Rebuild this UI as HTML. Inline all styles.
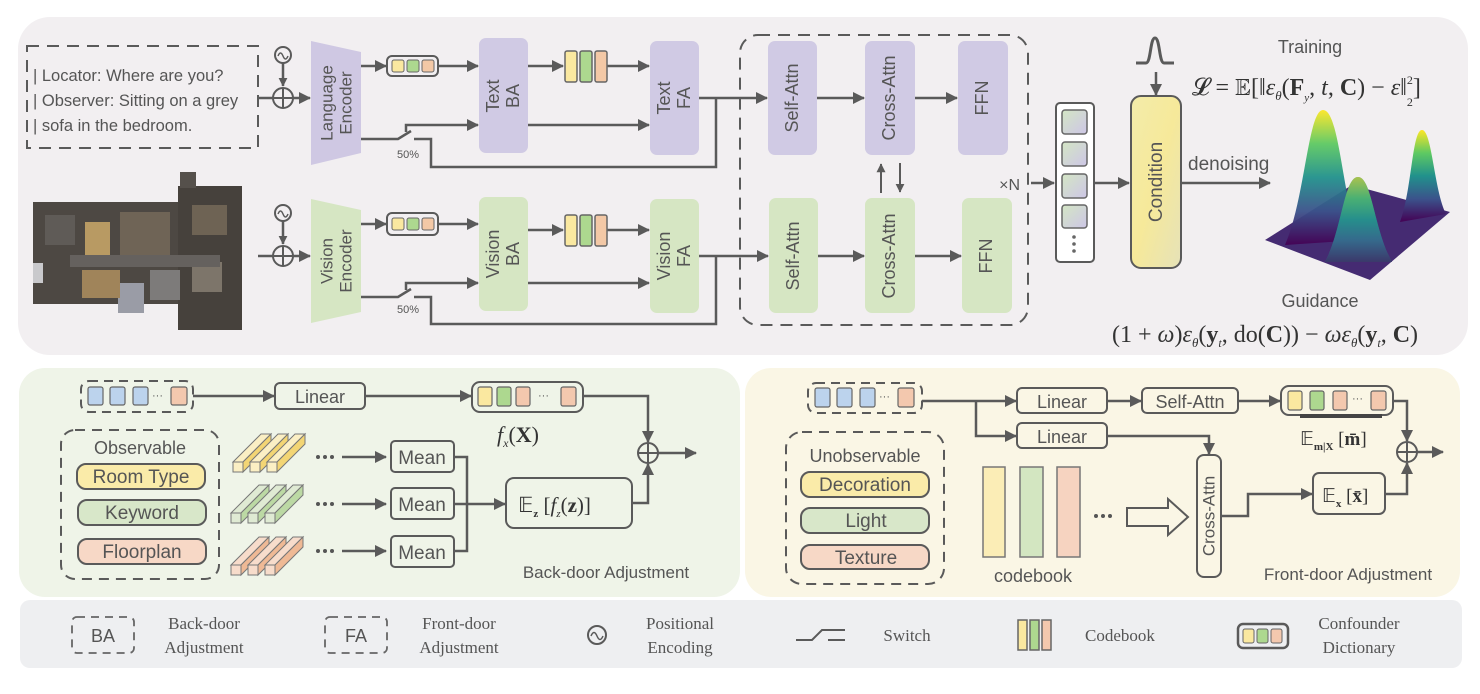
<!DOCTYPE html>
<html><head><meta charset="utf-8"><style>
html,body{margin:0;padding:0;background:#fff;}
svg{display:block;}
text{font-family:"Liberation Sans",sans-serif;fill:#555;}
.s{font-family:"Liberation Serif",serif;}
</style></head><body>
<svg width="1480" height="694" viewBox="0 0 1480 694" xmlns="http://www.w3.org/2000/svg">
<defs>
<marker id="a" viewBox="0 0 12 12" refX="11" refY="6" markerWidth="12" markerHeight="12" markerUnits="userSpaceOnUse" orient="auto"><path d="M0,0 L12,6 L0,12 z" fill="#5a5a5a"/></marker>
<marker id="b" viewBox="0 0 12 12" refX="11" refY="6" markerWidth="9" markerHeight="9" markerUnits="userSpaceOnUse" orient="auto"><path d="M0,0 L12,6 L0,12 z" fill="#5a5a5a"/></marker>
<linearGradient id="cond" x1="0" y1="0" x2="1" y2="1"><stop offset="0" stop-color="#f3ecaa"/><stop offset="0.5" stop-color="#f6e99a"/><stop offset="1" stop-color="#e6e2b8"/></linearGradient>
<linearGradient id="sq" x1="0" y1="0" x2="1" y2="1"><stop offset="0" stop-color="#d4e6c4"/><stop offset="1" stop-color="#cdc6e6"/></linearGradient>
<linearGradient id="vir" x1="0" y1="0" x2="0" y2="1"><stop offset="0" stop-color="#fde725"/><stop offset="0.25" stop-color="#5ec962"/><stop offset="0.5" stop-color="#21918c"/><stop offset="0.75" stop-color="#3b528b"/><stop offset="1" stop-color="#440154"/></linearGradient>
<g id="py"><rect x="0" y="0" width="10" height="10" fill="#fbefc4" stroke="#777" stroke-width="1"/><polygon points="0,0 28,-28 38,-28 10,0" fill="#fbefc4" stroke="#777" stroke-width="1"/><polygon points="10,0 38,-28 38,-18 10,10" fill="#f3d574" stroke="#777" stroke-width="1"/></g>
<g id="pg"><rect x="0" y="0" width="10" height="10" fill="#dfead3" stroke="#777" stroke-width="1"/><polygon points="0,0 28,-28 38,-28 10,0" fill="#dfead3" stroke="#777" stroke-width="1"/><polygon points="10,0 38,-28 38,-18 10,10" fill="#bcd9a4" stroke="#777" stroke-width="1"/></g>
<g id="po"><rect x="0" y="0" width="10" height="10" fill="#f7dccb" stroke="#777" stroke-width="1"/><polygon points="0,0 28,-28 38,-28 10,0" fill="#f7dccb" stroke="#777" stroke-width="1"/><polygon points="10,0 38,-28 38,-18 10,10" fill="#efb995" stroke="#777" stroke-width="1"/></g>
</defs>

<rect x="18" y="17" width="1450" height="338" rx="32" fill="#f2eff1"/>
<rect x="19" y="368" width="721" height="229" rx="26" fill="#eff4e8"/>
<rect x="745" y="368" width="715" height="229" rx="26" fill="#faf6e5"/>
<rect x="20" y="600" width="1442" height="68" rx="10" fill="#eeeff1"/>

<rect x="27" y="46" width="231" height="102" fill="none" stroke="#5a5a5a" stroke-dasharray="12,8" stroke-width="2"/>
<text x="33" y="81" font-size="16.5">| Locator: Where are you?</text>
<text x="33" y="106" font-size="16.5">| Observer: Sitting on a grey</text>
<text x="33" y="131" font-size="16.5">| sofa in the bedroom.</text>

<!-- floorplan image -->
<g>
<rect x="33" y="202" width="150" height="102" fill="#4d4843"/>
<rect x="178" y="186" width="64" height="144" fill="#46413c"/>
<rect x="118" y="283" width="26" height="30" fill="#9a9ca6"/>
<rect x="85" y="222" width="25" height="35" fill="#b89a63"/>
<rect x="120" y="212" width="50" height="45" fill="#6f6456"/>
<rect x="82" y="270" width="38" height="28" fill="#a0845a"/>
<rect x="45" y="215" width="30" height="30" fill="#5f5b57"/>
<rect x="150" y="270" width="30" height="30" fill="#7d7b7a"/>
<rect x="192" y="205" width="35" height="30" fill="#6e6354"/>
<rect x="192" y="262" width="30" height="30" fill="#7d756a"/>
<rect x="70" y="255" width="150" height="12" fill="#65615e"/>
<rect x="180" y="172" width="16" height="16" fill="#55504b"/>
<rect x="33" y="263" width="10" height="20" fill="#c9c9cc"/>
</g>

<g stroke="#5a5a5a" stroke-width="2.5" fill="none">
<circle cx="283" cy="55" r="8" stroke-width="2"/>
<path d="M278,56 q2.5,-6 5,0 q2.5,6 5,0" stroke-width="1.5"/>
<line x1="283" y1="63" x2="283" y2="86" marker-end="url(#b)"/>
<circle cx="283" cy="98" r="10" stroke-width="2"/>
<line x1="273" y1="98" x2="293" y2="98" stroke-width="2"/><line x1="283" y1="88" x2="283" y2="108" stroke-width="2"/>
<line x1="258" y1="98" x2="273" y2="98"/>
<line x1="293" y1="98" x2="310" y2="98" marker-end="url(#a)"/>
<line x1="361" y1="66" x2="386" y2="66" marker-end="url(#a)"/>
<line x1="438" y1="66" x2="478" y2="66" marker-end="url(#a)"/>
<line x1="528" y1="66" x2="563" y2="66" marker-end="url(#a)"/>
<line x1="607" y1="66" x2="649" y2="66" marker-end="url(#a)"/>
<polyline points="361,139 398,139 411,131"/>
<polyline points="406,132 406,125 478,125" marker-end="url(#a)"/>
<polyline points="414,139 431,139 431,167 716,167 716,98"/>
<line x1="528" y1="125" x2="649" y2="125" marker-end="url(#a)"/>
<line x1="699" y1="98" x2="767" y2="98" marker-end="url(#a)"/>
</g>
<polygon points="311,41 361,52 361,153 311,165" fill="#cfc8e3"/>
<text transform="translate(328,103) rotate(-90)" font-size="17" text-anchor="middle" dominant-baseline="middle">Language</text>
<text transform="translate(347,103) rotate(-90)" font-size="17" text-anchor="middle" dominant-baseline="middle">Encoder</text>
<rect x="387" y="56" width="51" height="20" rx="5" fill="none" stroke="#5a5a5a" stroke-width="2"/>
<rect x="392" y="60" width="12" height="12" rx="2" fill="#fae8a0" stroke="#666" stroke-width="1"/>
<rect x="407" y="60" width="12" height="12" rx="2" fill="#add88f" stroke="#666" stroke-width="1"/>
<rect x="422" y="60" width="12" height="12" rx="2" fill="#f3c8a6" stroke="#666" stroke-width="1"/>
<rect x="479" y="38" width="49" height="115" rx="7" fill="#d0cae4"/>
<text transform="translate(494,96) rotate(-90)" font-size="18" text-anchor="middle" dominant-baseline="middle">Text</text>
<text transform="translate(514,96) rotate(-90)" font-size="18" text-anchor="middle" dominant-baseline="middle">BA</text>
<rect x="565" y="51" width="12" height="31" rx="2" fill="#fae8a0" stroke="#666" stroke-width="1.5"/>
<rect x="580" y="51" width="12" height="31" rx="2" fill="#add88f" stroke="#666" stroke-width="1.5"/>
<rect x="595" y="51" width="12" height="31" rx="2" fill="#f3c8a6" stroke="#666" stroke-width="1.5"/>
<rect x="650" y="41" width="49" height="114" rx="7" fill="#d0cae4"/>
<text transform="translate(665,98) rotate(-90)" font-size="18" text-anchor="middle" dominant-baseline="middle">Text</text>
<text transform="translate(685,98) rotate(-90)" font-size="18" text-anchor="middle" dominant-baseline="middle">FA</text>
<text x="397" y="158" font-size="11">50%</text>

<g stroke="#5a5a5a" stroke-width="2.5" fill="none">
<circle cx="283" cy="213" r="8" stroke-width="2"/>
<path d="M278,214 q2.5,-6 5,0 q2.5,6 5,0" stroke-width="1.5"/>
<line x1="283" y1="221" x2="283" y2="244" marker-end="url(#b)"/>
<circle cx="283" cy="256" r="10" stroke-width="2"/>
<line x1="273" y1="256" x2="293" y2="256" stroke-width="2"/><line x1="283" y1="246" x2="283" y2="266" stroke-width="2"/>
<line x1="258" y1="256" x2="273" y2="256"/>
<line x1="293" y1="256" x2="310" y2="256" marker-end="url(#a)"/>
<line x1="361" y1="224" x2="386" y2="224" marker-end="url(#a)"/>
<line x1="438" y1="224" x2="478" y2="224" marker-end="url(#a)"/>
<line x1="528" y1="230" x2="563" y2="230" marker-end="url(#a)"/>
<line x1="607" y1="230" x2="649" y2="230" marker-end="url(#a)"/>
<polyline points="361,297 398,297 411,289"/>
<polyline points="406,290 406,283 478,283" marker-end="url(#a)"/>
<polyline points="414,297 431,297 431,324 716,324 716,256"/>
<line x1="528" y1="283" x2="649" y2="283" marker-end="url(#a)"/>
<line x1="699" y1="256" x2="768" y2="256" marker-end="url(#a)"/>
</g>
<polygon points="311,199 361,210 361,312 311,323" fill="#d6e6c3"/>
<text transform="translate(328,261) rotate(-90)" font-size="17" text-anchor="middle" dominant-baseline="middle">Vision</text>
<text transform="translate(347,261) rotate(-90)" font-size="17" text-anchor="middle" dominant-baseline="middle">Encoder</text>
<rect x="387" y="213" width="51" height="22" rx="5" fill="none" stroke="#5a5a5a" stroke-width="2"/>
<rect x="392" y="218" width="12" height="12" rx="2" fill="#fae8a0" stroke="#666" stroke-width="1"/>
<rect x="407" y="218" width="12" height="12" rx="2" fill="#add88f" stroke="#666" stroke-width="1"/>
<rect x="422" y="218" width="12" height="12" rx="2" fill="#f3c8a6" stroke="#666" stroke-width="1"/>
<rect x="479" y="197" width="49" height="114" rx="7" fill="#d6e6c3"/>
<text transform="translate(494,254) rotate(-90)" font-size="18" text-anchor="middle" dominant-baseline="middle">Vision</text>
<text transform="translate(514,254) rotate(-90)" font-size="18" text-anchor="middle" dominant-baseline="middle">BA</text>
<rect x="565" y="215" width="12" height="31" rx="2" fill="#fae8a0" stroke="#666" stroke-width="1.5"/>
<rect x="580" y="215" width="12" height="31" rx="2" fill="#add88f" stroke="#666" stroke-width="1.5"/>
<rect x="595" y="215" width="12" height="31" rx="2" fill="#f3c8a6" stroke="#666" stroke-width="1.5"/>
<rect x="650" y="199" width="49" height="114" rx="7" fill="#d6e6c3"/>
<text transform="translate(665,256) rotate(-90)" font-size="18" text-anchor="middle" dominant-baseline="middle">Vision</text>
<text transform="translate(685,256) rotate(-90)" font-size="18" text-anchor="middle" dominant-baseline="middle">FA</text>
<text x="397" y="313" font-size="11">50%</text>

<rect x="740" y="35" width="288" height="290" rx="18" fill="none" stroke="#5a5a5a" stroke-width="2" stroke-dasharray="12,8"/>
<g fill="#d0cae4">
<rect x="768" y="41" width="49" height="114" rx="7"/><rect x="865" y="41" width="50" height="114" rx="7"/><rect x="958" y="41" width="50" height="114" rx="7"/>
</g>
<g fill="#d6e6c3">
<rect x="769" y="198" width="49" height="115" rx="7"/><rect x="865" y="198" width="50" height="115" rx="7"/><rect x="962" y="198" width="50" height="115" rx="7"/>
</g>
<g font-size="18" text-anchor="middle" dominant-baseline="middle">
<text transform="translate(793,98) rotate(-90)">Self-Attn</text>
<text transform="translate(890,98) rotate(-90)">Cross-Attn</text>
<text transform="translate(983,98) rotate(-90)">FFN</text>
<text transform="translate(794,256) rotate(-90)">Self-Attn</text>
<text transform="translate(890,256) rotate(-90)">Cross-Attn</text>
<text transform="translate(987,256) rotate(-90)">FFN</text>
</g>
<g stroke="#5a5a5a" stroke-width="2.5" fill="none">
<line x1="817" y1="98" x2="864" y2="98" marker-end="url(#a)"/>
<line x1="915" y1="98" x2="957" y2="98" marker-end="url(#a)"/>
<line x1="818" y1="256" x2="864" y2="256" marker-end="url(#a)"/>
<line x1="915" y1="256" x2="961" y2="256" marker-end="url(#a)"/>
<line x1="881" y1="193" x2="881" y2="164" marker-end="url(#b)" stroke-width="2"/>
<line x1="900" y1="163" x2="900" y2="192" marker-end="url(#b)" stroke-width="2"/>
<line x1="1031" y1="183" x2="1054" y2="183" marker-end="url(#a)"/>
<line x1="1094" y1="183" x2="1129" y2="183" marker-end="url(#a)"/>
<line x1="1181" y1="183" x2="1270" y2="183" marker-end="url(#a)"/>
<line x1="1156" y1="72" x2="1156" y2="95" marker-end="url(#a)"/>
<path d="M1136,63 L1146,63 C1151,63 1150,38 1155,38 C1160,38 1159,63 1164,63 L1174,63" stroke-width="3"/>
</g>
<text x="1020" y="190" font-size="16" text-anchor="end">×N</text>
<rect x="1056" y="103" width="38" height="159" rx="4" fill="#fff" stroke="#5a5a5a" stroke-width="2"/>
<g fill="url(#sq)" stroke="#666" stroke-width="1.5">
<rect x="1062" y="110" width="25" height="24" rx="3"/><rect x="1062" y="142" width="25" height="24" rx="3"/><rect x="1062" y="174" width="25" height="24" rx="3"/><rect x="1062" y="205" width="25" height="23" rx="3"/>
</g>
<g fill="#666"><circle cx="1074" cy="237" r="1.8"/><circle cx="1074" cy="244" r="1.8"/><circle cx="1074" cy="251" r="1.8"/></g>
<rect x="1131" y="96" width="50" height="172" rx="10" fill="url(#cond)" stroke="#5a5a5a" stroke-width="2"/>
<text transform="translate(1157,182) rotate(-90)" font-size="19" text-anchor="middle" dominant-baseline="middle">Condition</text>
<text x="1188" y="170" font-size="19">denoising</text>
<text x="1310" y="53" font-size="18" text-anchor="middle">Training</text>
<text x="1192" y="95" font-size="24" class="s" style="fill:#333">𝓛 = 𝔼[‖<tspan font-style="italic">ε</tspan><tspan font-size="13" dy="5" font-style="italic">θ</tspan><tspan dy="-5">(</tspan><tspan font-weight="bold">F</tspan><tspan font-size="11" dy="6" font-style="italic">y</tspan><tspan dy="-6">, </tspan><tspan font-style="italic">t</tspan>, <tspan font-weight="bold">C</tspan>) − <tspan font-style="italic">ε</tspan>‖<tspan font-size="12" dy="-11">2</tspan><tspan font-size="12" dx="-6" dy="22">2</tspan><tspan dy="-11">]</tspan></text>

<polygon points="1265,240 1352,185 1450,212 1370,280" fill="#452b72"/>
<path d="M1285,245 C1305,200 1308,110 1323,110 C1340,110 1342,200 1360,240 Z" fill="url(#vir)" opacity="0.95"/>
<path d="M1400,222 C1412,190 1412,130 1422,130 C1432,130 1434,190 1446,214 Z" fill="url(#vir)"/>
<path d="M1325,262 C1342,230 1344,177 1358,177 C1372,177 1374,230 1392,262 Z" fill="#2d8b8c"/>
<path d="M1325,262 C1342,230 1344,177 1358,177 C1372,177 1374,230 1392,262 Z" fill="url(#vir)" opacity="0.6"/>
<text x="1320" y="307" font-size="18" text-anchor="middle">Guidance</text>
<text x="1112" y="342" font-size="24" class="s" style="fill:#333">(1 + <tspan font-style="italic">ω</tspan>)<tspan font-style="italic">ε</tspan><tspan font-size="13" dy="5" font-style="italic">θ</tspan><tspan dy="-5">(</tspan><tspan font-weight="bold">y</tspan><tspan font-size="12" dy="5" font-style="italic">t</tspan><tspan dy="-5">, do(</tspan><tspan font-weight="bold">C</tspan>)) − <tspan font-style="italic">ωε</tspan><tspan font-size="13" dy="5" font-style="italic">θ</tspan><tspan dy="-5">(</tspan><tspan font-weight="bold">y</tspan><tspan font-size="12" dy="5" font-style="italic">t</tspan><tspan dy="-5">, </tspan><tspan font-weight="bold">C</tspan>)</text>

<g stroke="#5a5a5a" stroke-width="2.5" fill="none">
<rect x="81" y="381" width="112" height="31" rx="8" stroke-dasharray="9,6" stroke-width="2"/>
<line x1="193" y1="396" x2="274" y2="396" marker-end="url(#a)"/>
<line x1="365" y1="396" x2="471" y2="396" marker-end="url(#a)"/>
<polyline points="583,396 648,396 648,442" marker-end="url(#a)"/>
<circle cx="648" cy="453" r="10" stroke-width="2"/>
<line x1="638" y1="453" x2="658" y2="453" stroke-width="2"/><line x1="648" y1="443" x2="648" y2="463" stroke-width="2"/>
<line x1="658" y1="453" x2="696" y2="453" marker-end="url(#a)"/>
<polyline points="632,503 648,503 648,464" marker-end="url(#a)"/>
<rect x="61" y="430" width="158" height="149" rx="14" stroke-dasharray="10,7" stroke-width="2"/>
<line x1="342" y1="457" x2="386" y2="457" marker-end="url(#a)"/>
<line x1="342" y1="504" x2="386" y2="504" marker-end="url(#a)"/>
<line x1="342" y1="551" x2="386" y2="551" marker-end="url(#a)"/>
<polyline points="454,457 467,457 467,551 454,551"/>
<line x1="454" y1="504" x2="505" y2="504" marker-end="url(#a)"/>
</g>
<g stroke="#666" stroke-width="1.2">
<rect x="88" y="387" width="15" height="18" rx="2" fill="#bcd3ed"/><rect x="110" y="387" width="15" height="18" rx="2" fill="#bcd3ed"/><rect x="133" y="387" width="15" height="18" rx="2" fill="#bcd3ed"/><rect x="171" y="387" width="16" height="18" rx="2" fill="#f3c8ae"/>
</g>
<text x="152" y="399" font-size="11">···</text>
<rect x="275" y="383" width="90" height="26" rx="5" fill="none" stroke="#5a5a5a" stroke-width="2"/>
<text x="320" y="403" font-size="18" text-anchor="middle">Linear</text>
<rect x="472" y="382" width="111" height="30" rx="8" fill="none" stroke="#5a5a5a" stroke-width="2"/>
<g stroke="#666" stroke-width="1.2">
<rect x="478" y="387" width="14" height="19" rx="2" fill="#fae8a0"/><rect x="497" y="387" width="14" height="19" rx="2" fill="#add88f"/><rect x="516" y="387" width="14" height="19" rx="2" fill="#f3c8ae"/><rect x="561" y="387" width="15" height="19" rx="2" fill="#f3c8ae"/>
</g>
<text x="538" y="399" font-size="11">···</text>
<text x="497" y="442" font-size="22" class="s" style="fill:#333"><tspan font-style="italic">f</tspan><tspan font-size="12" dy="5" font-style="italic">x</tspan><tspan dy="-5">(</tspan><tspan font-weight="bold">X</tspan>)</text>
<text x="140" y="454" font-size="18" text-anchor="middle">Observable</text>
<rect x="77" y="464" width="128" height="25" rx="9" fill="#faeba9" stroke="#5a5a5a" stroke-width="2"/>
<text x="141" y="483" font-size="19" text-anchor="middle">Room Type</text>
<rect x="78" y="500" width="128" height="25" rx="9" fill="#d8e7c9" stroke="#5a5a5a" stroke-width="2"/>
<text x="142" y="519" font-size="19" text-anchor="middle">Keyword</text>
<rect x="78" y="539" width="128" height="25" rx="9" fill="#f7d8c6" stroke="#5a5a5a" stroke-width="2"/>
<text x="142" y="558" font-size="19" text-anchor="middle">Floorplan</text>
<use href="#py" x="233" y="462"/><use href="#py" x="250" y="462"/><use href="#py" x="267" y="462"/>
<use href="#pg" x="231" y="513"/><use href="#pg" x="248" y="513"/><use href="#pg" x="265" y="513"/>
<use href="#po" x="231" y="565"/><use href="#po" x="248" y="565"/><use href="#po" x="265" y="565"/>
<g fill="#555"><circle cx="318" cy="457" r="2"/><circle cx="325" cy="457" r="2"/><circle cx="332" cy="457" r="2"/><circle cx="318" cy="504" r="2"/><circle cx="325" cy="504" r="2"/><circle cx="332" cy="504" r="2"/><circle cx="318" cy="551" r="2"/><circle cx="325" cy="551" r="2"/><circle cx="332" cy="551" r="2"/></g>
<g fill="none" stroke="#5a5a5a" stroke-width="2">
<rect x="391" y="441" width="63" height="31" rx="4"/><rect x="391" y="488" width="63" height="31" rx="4"/><rect x="391" y="536" width="63" height="31" rx="4"/>
<rect x="506" y="478" width="126" height="50" rx="8"/>
</g>
<text x="422" y="464" font-size="19" text-anchor="middle">Mean</text>
<text x="422" y="511" font-size="19" text-anchor="middle">Mean</text>
<text x="422" y="559" font-size="19" text-anchor="middle">Mean</text>
<text x="518" y="512" font-size="21" class="s" style="fill:#333">𝔼<tspan font-size="11" dy="5" font-weight="bold">z</tspan><tspan dy="-5"> [</tspan><tspan font-style="italic">f</tspan><tspan font-size="11" dy="5" font-style="italic">z</tspan><tspan dy="-5">(</tspan><tspan font-weight="bold">z</tspan>)]</text>
<text x="606" y="578" font-size="17" text-anchor="middle">Back-door Adjustment</text>

<g stroke="#5a5a5a" stroke-width="2.5" fill="none">
<rect x="808" y="383" width="114" height="30" rx="8" stroke-dasharray="9,6" stroke-width="2"/>
<line x1="922" y1="401" x2="1016" y2="401" marker-end="url(#a)"/>
<polyline points="976,401 976,436 1016,436" marker-end="url(#a)"/>
<line x1="1107" y1="401" x2="1141" y2="401" marker-end="url(#a)"/>
<line x1="1238" y1="401" x2="1280" y2="401" marker-end="url(#a)"/>
<polyline points="1107,436 1209,436 1209,454" marker-end="url(#a)"/>
<polyline points="1393,401 1407,401 1407,441" marker-end="url(#a)"/>
<circle cx="1407" cy="452" r="10" stroke-width="2"/>
<line x1="1397" y1="452" x2="1417" y2="452" stroke-width="2"/><line x1="1407" y1="442" x2="1407" y2="462" stroke-width="2"/>
<line x1="1417" y1="452" x2="1443" y2="452" marker-end="url(#a)"/>
<polyline points="1385,494 1407,494 1407,463" marker-end="url(#a)"/>
<polyline points="1221,516 1248,516 1248,494 1312,494" marker-end="url(#a)"/>
<rect x="786" y="432" width="158" height="152" rx="16" stroke-dasharray="10,7" stroke-width="2"/>
<polygon points="1127,508 1168,508 1168,499 1188,517 1168,535 1168,526 1127,526" stroke-width="2"/>
</g>
<g stroke="#666" stroke-width="1.2">
<rect x="815" y="388" width="15" height="19" rx="2" fill="#bcd3ed"/><rect x="837" y="388" width="15" height="19" rx="2" fill="#bcd3ed"/><rect x="860" y="388" width="15" height="19" rx="2" fill="#bcd3ed"/><rect x="898" y="388" width="16" height="19" rx="2" fill="#f3c8ae"/>
</g>
<text x="879" y="400" font-size="11">···</text>
<g fill="none" stroke="#5a5a5a" stroke-width="2">
<rect x="1017" y="388" width="90" height="25" rx="5"/><rect x="1017" y="423" width="90" height="25" rx="5"/>
<rect x="1142" y="388" width="96" height="25" rx="5"/>
<rect x="1281" y="386" width="112" height="29" rx="8"/>
<rect x="1197" y="455" width="24" height="122" rx="7"/>
<rect x="1313" y="473" width="72" height="41" rx="6"/>
</g>
<text x="1062" y="408" font-size="18" text-anchor="middle">Linear</text>
<text x="1062" y="443" font-size="18" text-anchor="middle">Linear</text>
<text x="1190" y="408" font-size="18" text-anchor="middle">Self-Attn</text>
<g stroke="#666" stroke-width="1.2">
<rect x="1288" y="391" width="14" height="19" rx="2" fill="#fae8a0"/><rect x="1310" y="391" width="14" height="19" rx="2" fill="#add88f"/><rect x="1333" y="391" width="14" height="19" rx="2" fill="#f3c8ae"/><rect x="1371" y="391" width="15" height="19" rx="2" fill="#f3c8ae"/>
</g>
<text x="1352" y="402" font-size="11">···</text>
<rect x="1300" y="414" width="82" height="4" fill="#444"/>
<text x="1300" y="445" font-size="19" class="s" style="fill:#333">𝔼<tspan font-size="11" dy="5" font-weight="bold">m|X</tspan><tspan dy="-5"> [</tspan><tspan font-weight="bold">m̄</tspan>]</text>
<text x="1322" y="502" font-size="19" class="s" style="fill:#333">𝔼<tspan font-size="11" dy="5" font-weight="bold">x</tspan><tspan dy="-5"> [</tspan><tspan font-weight="bold">x̄</tspan>]</text>
<text transform="translate(1210,516) rotate(-90)" font-size="17" text-anchor="middle" dominant-baseline="middle">Cross-Attn</text>
<text x="865" y="462" font-size="18" text-anchor="middle">Unobservable</text>
<rect x="801" y="472" width="128" height="25" rx="9" fill="#faeba9" stroke="#5a5a5a" stroke-width="2"/>
<text x="865" y="491" font-size="19" text-anchor="middle">Decoration</text>
<rect x="801" y="508" width="128" height="25" rx="9" fill="#d8e7c9" stroke="#5a5a5a" stroke-width="2"/>
<text x="866" y="527" font-size="19" text-anchor="middle">Light</text>
<rect x="801" y="545" width="128" height="24" rx="9" fill="#f7d8c6" stroke="#5a5a5a" stroke-width="2"/>
<text x="866" y="564" font-size="19" text-anchor="middle">Texture</text>
<g stroke="#777" stroke-width="1.5">
<rect x="983" y="467" width="22" height="90" fill="#fbedb6"/><rect x="1020" y="467" width="23" height="90" fill="#d3e6c1"/><rect x="1057" y="467" width="23" height="90" fill="#f6d3c0"/>
</g>
<text x="1033" y="582" font-size="18" text-anchor="middle">codebook</text>
<g fill="#555"><circle cx="1096" cy="516" r="2"/><circle cx="1103" cy="516" r="2"/><circle cx="1110" cy="516" r="2"/></g>
<text x="1348" y="580" font-size="17" text-anchor="middle">Front-door Adjustment</text>

<g fill="none" stroke="#666" stroke-width="1.8" stroke-dasharray="8,6">
<rect x="72" y="617" width="62" height="36" rx="5"/><rect x="325" y="617" width="62" height="36" rx="5"/>
</g>
<text x="103" y="642" font-size="18" text-anchor="middle">BA</text>
<text x="356" y="642" font-size="18" text-anchor="middle">FA</text>
<g font-size="17" text-anchor="middle">
<text x="204" y="629" class="s">Back-door</text><text x="204" y="653" class="s">Adjustment</text>
<text x="459" y="629" class="s">Front-door</text><text x="459" y="653" class="s">Adjustment</text>
<text x="680" y="629" class="s">Positional</text><text x="680" y="653" class="s">Encoding</text>
<text x="907" y="641" class="s">Switch</text>
<text x="1120" y="641" class="s">Codebook</text>
<text x="1359" y="629" class="s">Confounder</text><text x="1359" y="653" class="s">Dictionary</text>
</g>
<g stroke="#5a5a5a" stroke-width="2" fill="none">
<circle cx="597" cy="635" r="9"/>
<path d="M591,636 q3,-7 6,0 q3,7 6,0" stroke-width="1.5"/>
<polyline points="796,640 812,640 822,630 845,630"/>
<line x1="828" y1="640" x2="845" y2="640"/>
</g>
<g stroke="#666" stroke-width="1.5">
<rect x="1018" y="620" width="9" height="30" fill="#fae8a0"/><rect x="1030" y="620" width="9" height="30" fill="#add88f"/><rect x="1042" y="620" width="9" height="30" fill="#f3c8ae"/>
</g>
<rect x="1238" y="624" width="50" height="24" rx="5" fill="none" stroke="#5a5a5a" stroke-width="2.5"/>
<g stroke="#666" stroke-width="1">
<rect x="1243" y="629" width="11" height="14" rx="2" fill="#fae8a0"/><rect x="1257" y="629" width="11" height="14" rx="2" fill="#add88f"/><rect x="1271" y="629" width="11" height="14" rx="2" fill="#f3c8ae"/>
</g>
</svg>
</body></html>
